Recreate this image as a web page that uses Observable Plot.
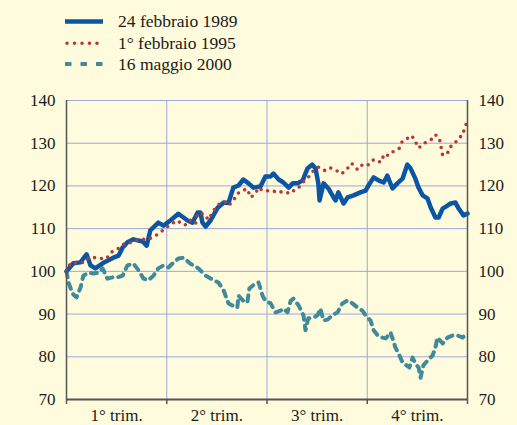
<!DOCTYPE html>
<html><head><meta charset="utf-8">
<script src="https://cdn.jsdelivr.net/npm/d3@7"></script>
<script src="https://cdn.jsdelivr.net/npm/@observablehq/plot@0.6"></script>
<style>
body{margin:0;padding:0;background:#FFFCDD;font-family:"Liberation Serif";font-size:17.5px;color:#1a1a1a;}
#legend{position:relative;width:517px;height:88px;}
#legend .row{position:absolute;left:118px;line-height:20px;white-space:nowrap;font-family:"Liberation Serif";}
#legend svg{position:absolute;left:0;top:0;}
#chart svg{display:block;}
</style></head><body>
<div id="legend"></div>
<div id="chart"></div>
<script>
const seriesNames = ["24 febbraio 1989", "1° febbraio 1995", "16 maggio 2000"];
const seriesColors = ["#0A55A4", "#B5393A", "#3F8B9C"];
const quarterLabels = ["1° trim.", "2° trim.", "3° trim.", "4° trim."];
const quarterBounds = [0, 25, 50, 75, 100];
const quarterMids = [12.5, 37.5, 62.5, 87.5];
const yTicks = [70, 80, 90, 100, 110, 120, 130, 140];

const t1989 = [0,1.7,3.5,5.0,6.0,7.2,9.2,11.7,13.0,14.0,15.2,16.7,19.0,20.0,20.9,22.9,24.2,25.9,27.9,30.2,31.4,32.7,33.4,33.9,34.7,35.9,37.7,39.2,40.4,41.6,42.9,44.1,45.4,46.6,48.4,49.6,50.9,51.6,52.9,54.1,55.4,56.4,57.6,58.9,60.1,61.3,62.1,62.8,63.1,64.1,65.3,66.6,67.1,67.8,69.1,70.1,71.6,73.3,74.6,75.3,76.6,77.8,79.1,80.0,81.3,82.5,83.8,85.0,85.8,87.0,87.8,88.8,90.0,90.8,92.0,92.8,93.8,95.0,95.8,97.0,97.8,99.0,100];
const v1989 = [100,101.9,102.1,104,101.4,100.7,102,103.2,103.7,105.6,106.8,107.5,107,106,109.6,111.4,110.7,111.9,113.5,111.9,111.4,113.8,113.8,111.4,110.5,111.9,114.9,116.1,116,119.6,120.1,121.5,120.6,119.6,119.9,122.2,122.2,122.9,121.5,120.8,119.6,120.6,120.6,121.3,124.1,125,124.1,120.6,116.6,120.6,119.4,117.3,116.6,118.5,115.9,117.3,117.8,118.5,118.9,120.1,122,121.3,120.8,122.4,119.4,120.6,121.7,125,124.1,121.7,119.6,117.8,117.1,115,112.6,112.6,114.7,115.4,115.9,116.1,114.7,113.1,113.5];

const t1995 = [0,1.0,3.0,4.2,5.7,7.2,8.5,10.0,11.0,12.7,14.0,15.5,16.7,19.0,20.2,21.7,23.2,24.7,25.9,27.7,28.9,29.9,30.9,32.2,32.7,34.2,35.4,36.4,37.4,38.4,39.4,40.4,41.6,42.6,43.9,45.1,45.9,47.1,47.9,49.1,51.4,52.6,53.9,55.9,57.1,57.9,58.9,60.3,61.6,62.8,64.3,65.6,67.3,68.6,70.1,71.1,72.6,73.8,75.1,76.3,77.1,78.3,79.3,80.3,81.8,83.0,83.8,85.0,86.0,87.0,87.5,88.0,89.0,90.8,92.0,93.0,93.8,95.0,95.5,96.8,97.8,98.8,99.3,100];
const v1995 = [100,101.9,102.1,102.1,103.3,103.2,103,103,104.4,105.2,106.3,106.5,107.2,107.5,107.5,108,109,110.1,111,111.9,110.9,110.9,112,111.2,113.5,113.5,112.1,113.8,115.2,116,116.3,115.4,116.5,118.2,118.9,119.3,117.3,118.2,119.6,118.8,118.9,118.4,118.7,118.2,119.3,119.6,120.8,122,123.6,124.4,123.6,124.3,123.6,122.8,124.1,125.3,123.8,125,124.8,126,126.2,125.5,127.5,127.1,128.3,128.8,130.6,131.1,131.8,130.6,129,129,129.9,130.7,132,131.1,127.2,127.6,129,129.9,131.3,131.8,133.7,135.1];

const t2000 = [0,0.5,1.5,2.5,3.5,4.2,5.5,6.7,8.0,9.0,10.2,11.5,12.7,14.0,15.2,16.7,18.0,19.2,20.4,21.7,22.9,24.2,25.4,26.7,27.9,29.2,30.9,32.9,34.7,36.7,37.9,39.2,40.4,41.4,42.6,42.9,44.1,45.1,45.6,47.1,47.9,48.9,49.6,50.9,52.1,53.4,54.1,55.1,55.9,56.6,57.9,59.1,59.6,60.3,61.6,62.6,63.3,64.1,65.1,66.3,67.6,68.8,70.1,71.3,72.6,73.8,74.6,75.8,76.6,77.6,78.8,79.6,80.8,81.5,82.0,82.8,83.8,84.8,85.5,86.3,87.0,87.8,88.3,89.0,90.0,91.3,92.0,92.5,93.8,95.0,96.3,97.5,98.8,100];
const v2000 = [100,97.4,94.8,93.9,96.2,99,99.7,99.5,99.7,100.7,98.3,98.6,98.6,99,101.4,101.8,100.2,98.3,97.9,99,100.7,101.4,100.9,102.1,103,103.2,101.8,100.7,99,97.9,97.4,95.5,92.5,92,91.5,94.3,93.1,92.7,96,97.2,97.4,94.3,93.1,92.5,90.4,90.8,91.3,90.4,93.1,93.6,92,89.7,86.2,89,89.2,89.7,91.3,88.5,88.7,89.7,90.4,92.5,93.2,92.5,91.5,90.8,89.7,88.5,86.2,85,84.5,84.3,85.7,83.8,82.2,80.8,78.7,78,77.5,79.8,78.4,77.5,75.1,78,79.1,80.3,82.2,84.5,83.1,84.5,85,85,84.5,85.7];

const rows = (ts, vs) => ts.map((t, i) => ({t, v: vs[i]}));
const d1989 = rows(t1989, v1989);
const d1995 = rows(t1995, v1995);
const d2000 = rows(t2000, v2000);

const gridColor = "#9CA6DF";
const axisColor = "#555555";
const font = "Liberation Serif";

// Legend (HTML text + small line samples)
const legend = d3.select("#legend");
const sw = legend.append("svg").attr("width", 110).attr("height", 88);
const legY = [21.5, 43.3, 64];
const textY = [27, 48.5, 69.5];
const dash = [null, "0,7.5", "6.5,9"];
const widths = [4.5, 3.6, 4];
seriesNames.forEach((name, i) => {
  sw.append("line")
    .attr("x1", i === 1 ? 67 : 65).attr("x2", 103)
    .attr("y1", legY[i]).attr("y2", legY[i])
    .attr("stroke", seriesColors[i]).attr("stroke-width", widths[i])
    .attr("stroke-dasharray", dash[i])
    .attr("stroke-linecap", i === 1 ? "round" : "butt");
  legend.append("div").attr("class", "row").style("top", (textY[i] - 16) + "px").text(name);
});

const chart = Plot.plot({
  width: 517, height: 337,
  marginTop: 12, marginBottom: 26, marginLeft: 66, marginRight: 50,
  style: {background: "transparent", fontFamily: font, fontSize: "17px", color: "#1a1a1a"},
  x: {domain: [0, 100]},
  y: {domain: [70, 140]},
  marks: [
    Plot.ruleY(yTicks.slice(1), {stroke: gridColor, strokeWidth: 1}),
    Plot.ruleX(quarterBounds.slice(1, -1), {stroke: gridColor, strokeWidth: 1}),
    Plot.line(d2000, {x: "t", y: "v", stroke: seriesColors[2], strokeWidth: 4, strokeDasharray: "6,6"}),
    Plot.line(d1989, {x: "t", y: "v", stroke: seriesColors[0], strokeWidth: 4.5, strokeLinejoin: "round", strokeLinecap: "round"}),
    Plot.line(d1995, {x: "t", y: "v", stroke: seriesColors[1], strokeWidth: 3.6, strokeDasharray: "0,7", strokeLinecap: "round"}),
    Plot.ruleX([0, 100], {stroke: axisColor, strokeWidth: 1.5}),
    Plot.ruleY([70], {stroke: axisColor, strokeWidth: 2}),
    Plot.axisY(yTicks, {anchor: "left", tickSize: 0, tickPadding: 11, fontSize: 17, fontFamily: font, label: null}),
    Plot.axisY(yTicks, {anchor: "right", tickSize: 0, tickPadding: 11, fontSize: 17, fontFamily: font, label: null}),
    Plot.axisX(quarterBounds, {anchor: "bottom", tickSize: 5, tickFormat: () => "", label: null, stroke: axisColor, strokeWidth: 1.5}),
    Plot.axisX(quarterMids, {anchor: "bottom", tickSize: 0, tickPadding: 9, fontSize: 17, fontFamily: font, label: null,
      tickFormat: d => quarterLabels[quarterMids.indexOf(d)]})
  ]
});
document.getElementById("chart").appendChild(chart);
</script></body></html>
